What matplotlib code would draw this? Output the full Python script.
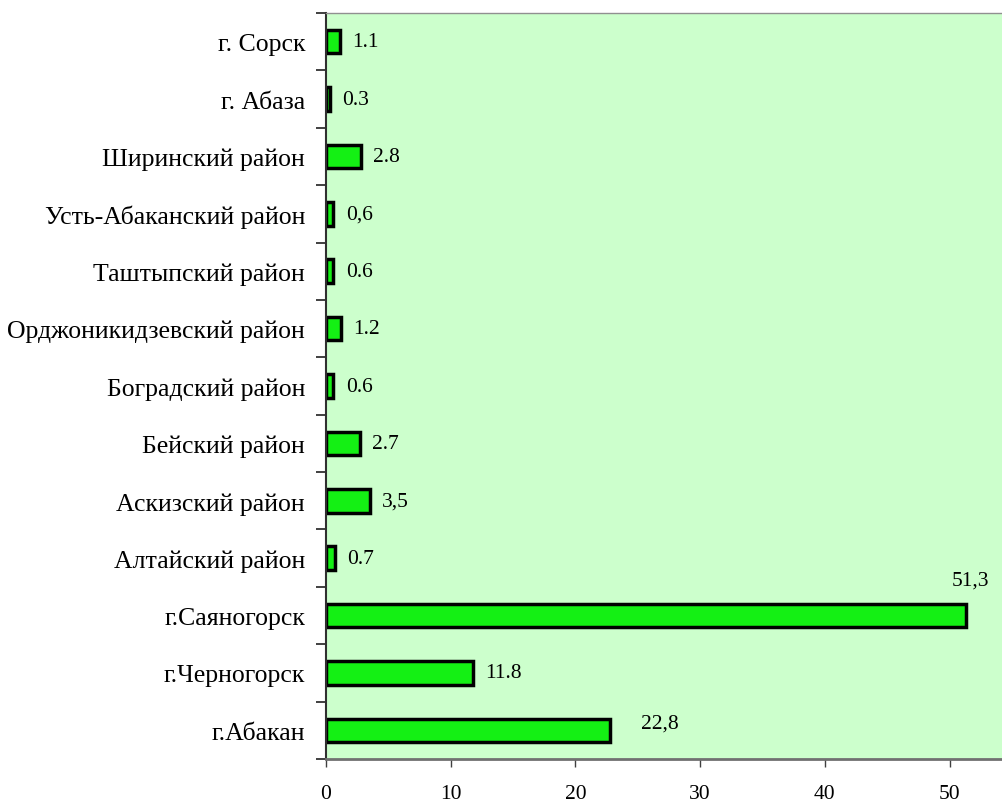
import numpy as np
import matplotlib.pyplot as plt

plt.rcParams['font.family'] = ['Liberation Serif', 'DejaVu Serif']

# districts listed from bottom to top
districts = ['г.Абакан', 'г.Черногорск', 'г.Саяногорск', 'Алтайский район',
             'Аскизский район', 'Бейский район', 'Боградский район',
             'Орджоникидзевский район', 'Таштыпский район',
             'Усть-Абаканский район', 'Ширинский район', 'г. Абаза', 'г. Сорск']
shares = [22.8, 11.8, 51.3, 0.7, 3.5, 2.7, 0.6, 1.2, 0.6, 0.6, 2.8, 0.3, 1.1]
share_labels = ['22,8', '11.8', '51,3', '0.7', '3,5', '2.7', '0.6', '1.2',
                '0.6', '0,6', '2.8', '0.3', '1.1']

fig = plt.figure(figsize=(10.02, 8.03), dpi=100)
ax = fig.add_axes([0.3253, 0.0535, 0.6747, 0.9291])
ax.set_facecolor('#ccffcc')

y = np.arange(len(districts))
ax.barh(y, shares, height=0.41, color='#14f014', edgecolor='black', linewidth=2.5)

# value labels: most sit to the right of the bar end, the long one above it
for yi, v, lab in zip(y, shares, share_labels):
    if v > 40:
        ax.annotate(lab, (v, yi), xytext=(3, 19), textcoords='offset points',
                    ha='center', va='bottom', fontsize=15.5)
    elif v > 20:
        ax.annotate(lab, (v, yi), xytext=(22, 5), textcoords='offset points',
                    ha='left', va='center', fontsize=15.5)
    else:
        ax.annotate(lab, (v, yi), xytext=(9, 0), textcoords='offset points',
                    ha='left', va='center', fontsize=15.5)

ax.set_xlim(0, 54.2)
ax.set_ylim(-0.5, len(districts) - 0.5)
ax.set_xticks([0, 10, 20, 30, 40, 50])
ax.tick_params(axis='x', labelsize=15.5, length=6, width=1, color='#404040', pad=12)

ax.set_yticks(y)
ax.set_yticklabels(districts, fontsize=18.5)
ax.set_yticks(np.arange(-0.5, len(districts)), minor=True)
ax.tick_params(axis='y', which='major', length=0, pad=15)
ax.tick_params(axis='y', which='minor', length=7, width=1.2, color='#202020')

ax.spines['right'].set_visible(False)
ax.spines['top'].set_color('#909090')
ax.spines['top'].set_linewidth(1)
ax.spines['bottom'].set_color('#707070')
ax.spines['bottom'].set_linewidth(2)
ax.spines['left'].set_color('#303030')
ax.spines['left'].set_linewidth(1.5)

fig.savefig('out.png', dpi=100)
